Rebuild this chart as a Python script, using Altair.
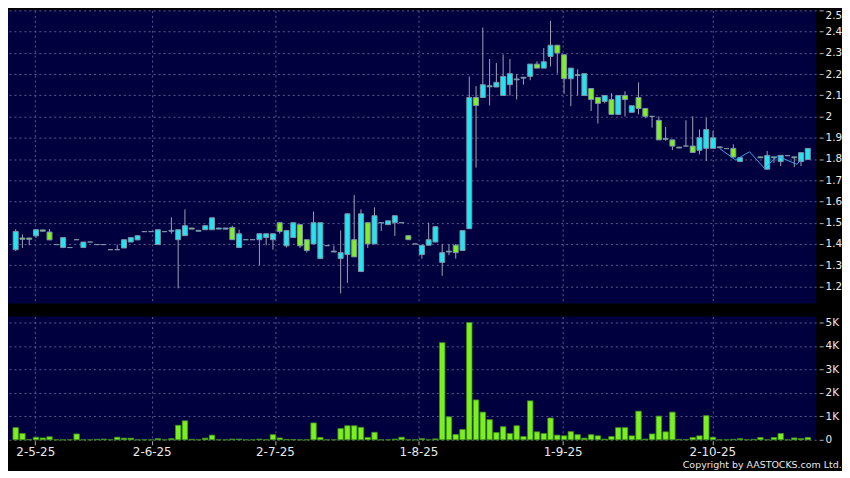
import altair as alt
import pandas as pd

# ---- price data (one entry per trading slot) ----
opens = [1.373, 1.428, 1.428, 1.438, 1.466, 1.456, 1.397, 1.383, 1.383, 1.420,
         1.383, 1.409, 1.397, 1.397, 1.373, 1.373, 1.381, 1.409, 1.419, 1.458,
         1.458, 1.397, 1.458, 1.460, 1.420, 1.439, 1.475, 1.460, 1.467, 1.467,
         1.470, 1.470, 1.478, 1.383, 1.420, 1.420, 1.420, 1.430, 1.420, 1.500,
         1.391, 1.430, 1.491, 1.420, 1.400, 1.331, 1.392, 1.362, 1.331, 1.350,
         1.420, 1.270, 1.500, 1.400, 1.500, 1.491, 1.500, 1.500, 1.439, 1.400,
         1.350, 1.394, 1.409, 1.313, 1.362, 1.394, 1.369, 1.472, 2.090, 2.090,
         2.145, 2.139, 2.099, 2.150, 2.173, 2.181, 2.189, 2.247, 2.228, 2.283,
         2.336, 2.291, 2.178, 2.197, 2.099, 2.132, 2.090, 2.071, 2.080, 2.010,
         2.099, 2.020, 2.090, 2.038, 2.001, 1.982, 1.897, 1.890, 1.856, 1.861,
         1.861, 1.841, 1.850, 1.850, 1.857, 1.849, 1.850, 1.788, None, None,
         1.810, 1.752, 1.810, 1.788, 1.816, 1.810, 1.788, 1.798]
highs = [1.469, 1.445, 1.428, 1.467, 1.466, 1.470, 1.397, 1.430, 1.383, 1.420,
         1.409, 1.409, 1.397, 1.397, 1.373, 1.397, 1.420, 1.430, 1.439, 1.458,
         1.458, 1.467, 1.458, 1.525, 1.467, 1.563, 1.475, 1.464, 1.486, 1.523,
         1.475, 1.475, 1.486, 1.467, 1.420, 1.420, 1.448, 1.448, 1.448, 1.500,
         1.463, 1.500, 1.491, 1.420, 1.553, 1.500, 1.392, 1.392, 1.464, 1.542,
         1.631, 1.563, 1.500, 1.572, 1.500, 1.509, 1.533, 1.500, 1.439, 1.400,
         1.394, 1.500, 1.481, 1.400, 1.400, 1.400, 1.463, 2.189, 2.143, 2.419,
         2.271, 2.252, 2.292, 2.271, 2.200, 2.185, 2.247, 2.260, 2.322, 2.451,
         2.336, 2.291, 2.228, 2.222, 2.202, 2.132, 2.090, 2.099, 2.110, 2.099,
         2.119, 2.051, 2.161, 2.038, 2.001, 2.001, 1.951, 1.890, 1.856, 1.982,
         2.001, 1.939, 1.994, 1.931, 1.857, 1.849, 1.869, 1.806, None, None,
         1.810, 1.838, 1.810, 1.817, 1.816, 1.810, 1.830, 1.850]
lows = [1.367, 1.381, 1.394, 1.428, 1.460, 1.419, 1.397, 1.383, 1.383, 1.420,
        1.383, 1.409, 1.397, 1.397, 1.373, 1.373, 1.381, 1.409, 1.419, 1.458,
        1.458, 1.397, 1.458, 1.448, 1.191, 1.439, 1.470, 1.460, 1.467, 1.467,
        1.470, 1.470, 1.420, 1.383, 1.420, 1.420, 1.300, 1.394, 1.373, 1.448,
        1.383, 1.430, 1.381, 1.359, 1.400, 1.331, 1.392, 1.362, 1.167, 1.217,
        1.339, 1.270, 1.381, 1.400, 1.461, 1.491, 1.438, 1.500, 1.420, 1.400,
        1.331, 1.394, 1.409, 1.250, 1.347, 1.331, 1.369, 1.472, 1.760, 2.090,
        2.052, 2.139, 2.099, 2.099, 2.080, 2.150, 2.171, 2.228, 2.228, 2.236,
        2.202, 2.107, 2.049, 2.099, 2.099, 2.026, 1.967, 2.062, 2.010, 2.010,
        2.000, 2.020, 2.010, 1.992, 1.948, 1.890, 1.886, 1.842, 1.852, 1.861,
        1.831, 1.822, 1.791, 1.850, 1.853, 1.849, 1.809, 1.788, None, None,
        1.806, 1.752, 1.782, 1.767, 1.816, 1.762, 1.767, 1.798]
closes = [1.459, 1.422, 1.422, 1.467, 1.460, 1.419, 1.397, 1.430, 1.383, 1.420,
          1.409, 1.409, 1.397, 1.397, 1.373, 1.373, 1.420, 1.430, 1.439, 1.458,
          1.458, 1.467, 1.458, 1.464, 1.467, 1.486, 1.470, 1.464, 1.486, 1.523,
          1.475, 1.475, 1.420, 1.448, 1.420, 1.420, 1.448, 1.448, 1.448, 1.459,
          1.463, 1.500, 1.391, 1.369, 1.500, 1.500, 1.392, 1.366, 1.359, 1.542,
          1.339, 1.542, 1.400, 1.533, 1.500, 1.509, 1.533, 1.500, 1.420, 1.400,
          1.394, 1.420, 1.481, 1.359, 1.366, 1.359, 1.463, 2.090, 2.052, 2.150,
          2.140, 2.161, 2.189, 2.202, 2.177, 2.185, 2.247, 2.228, 2.258, 2.336,
          2.299, 2.178, 2.228, 2.193, 2.202, 2.080, 2.062, 2.099, 2.010, 2.099,
          2.080, 2.051, 2.038, 2.001, 2.001, 1.890, 1.893, 1.861, 1.852, 1.861,
          1.831, 1.900, 1.939, 1.900, 1.853, 1.849, 1.809, 1.806, None, None,
          1.806, 1.817, 1.806, 1.817, 1.816, 1.806, 1.830, 1.850]

# ---- volume data ----
volumes = [520, 270, 10, 110, 80, 130, 0, 0, 0, 250,
           0, 0, 20, 30, 0, 110, 70, 70, 0, 0,
           0, 50, 0, 50, 620, 810, 20, 0, 70, 200,
           0, 0, 30, 30, 0, 0, 30, 0, 220, 80,
           10, 10, 0, 0, 720, 100, 0, 0, 480, 600,
           600, 530, 100, 320, 0, 0, 30, 110, 0, 0,
           50, 0, 40, 4140, 980, 230, 440, 5000, 1700, 1180,
           860, 310, 560, 270, 600, 140, 1660, 340, 270, 930,
           200, 170, 350, 220, 70, 220, 170, 30, 140, 520,
           520, 170, 1220, 30, 250, 1010, 340, 1180, 20, 10,
           100, 170, 1030, 110, 0, 0, 20, 50, 0, 20,
           100, 0, 100, 270, 0, 80, 50, 100]

# ---- thin blue overlay line ----
line_idx = [104.0, 106.3, 108.4, 110.6, 112.5, 115.4, 116.0]
line_val = [1.849, 1.796, 1.834, 1.756, 1.814, 1.775, 1.798]

# ---- axis ticks ----
tick_pos = [2.9, 20.1, 38.3, 59.5, 80.8, 102.9]
tick_labels = ["2-5-25", "2-6-25", "2-7-25", "1-8-25", "1-9-25", "2-10-25"]
price_ticks = [1.2, 1.3, 1.4, 1.5, 1.6, 1.7, 1.8, 1.9, 2.0, 2.1, 2.2, 2.3, 2.4, 2.5]
vol_ticks = [0, 1000, 2000, 3000, 4000, 5000]

def direction(o, c):
    if o is None or c is None:
        return None
    if c > o:
        return "up"
    if c < o:
        return "down"
    return "flat"

df = pd.DataFrame({
    "i": list(range(len(volumes))),
    "open": opens, "high": highs, "low": lows, "close": closes,
    "vol": volumes,
})
df["dir"] = [direction(o, c) for o, c in zip(opens, closes)]
line_df = pd.DataFrame({"i": line_idx, "v": line_val})

NAVY = "#00003f"
GRID = "#5c5c8e"
CYAN = "#22e6ef"
GREEN = "#7ff024"
FLAT = "#a2a8b8"
BORDER = "#7e93a8"
WICK = "#a0a0b4"
LABEL = "#e8e8e8"
FONT = "DejaVu Sans"
W = 813

xs = alt.Scale(domain=[-0.4, 117.5], nice=False, zero=False)
ys_price = alt.Scale(domain=[1.119, 2.5], nice=False, zero=False)
ys_vol = alt.Scale(domain=[0, 5254], nice=False, zero=True)

common_axis = dict(gridColor=GRID, gridDash=[2, 3], gridWidth=1, domain=False,
                   labelColor=LABEL, labelFont=FONT, tickColor="#b0b0b0",
                   title=None, labelOverlap=False)

x_price_axis = alt.Axis(values=tick_pos, labels=False, ticks=False, grid=True,
                        **common_axis)
y_price_axis = alt.Axis(orient="right", values=price_ticks, format=".2~f",
                        grid=True, tickSize=4, offset=3, labelPadding=2,
                        labelFontSize=10.5, labelFlush=True, tickCount=14,
                        **common_axis)

wick = alt.Chart(df).mark_rule(color=WICK, strokeWidth=1).encode(
    x=alt.X("i:Q", scale=xs, axis=x_price_axis),
    y=alt.Y("low:Q", scale=ys_price, axis=y_price_axis),
    y2="high:Q",
)
body = alt.Chart(df).mark_bar(size=5, stroke=BORDER, strokeWidth=1).encode(
    x=alt.X("i:Q", scale=xs, axis=x_price_axis),
    y=alt.Y("open:Q", scale=ys_price, axis=y_price_axis),
    y2="close:Q",
    color=alt.Color("dir:N", scale=alt.Scale(domain=["up", "down", "flat"],
                                             range=[CYAN, GREEN, FLAT]),
                    legend=None),
)
overlay = alt.Chart(line_df).mark_line(color="#3f9ee0", strokeWidth=1).encode(
    x=alt.X("i:Q", scale=xs, axis=x_price_axis),
    y=alt.Y("v:Q", scale=ys_price, axis=y_price_axis),
)
price = alt.layer(wick, body, overlay).properties(width=W, height=295)

label_expr = ("[" + ",".join(f"'{t}'" for t in tick_labels) + "][indexof(["
              + ",".join(str(p) for p in tick_pos) + "], datum.value)]")
x_vol_axis = alt.Axis(values=tick_pos, labelExpr=label_expr, grid=True,
                      tickSize=4, offset=1, labelPadding=2, labelFontSize=12,
                      labelFlush=False, **common_axis)
y_vol_axis = alt.Axis(orient="right", values=vol_ticks,
                      labelExpr="datum.value == 0 ? '0' : (datum.value / 1000) + 'K'",
                      grid=True, tickSize=4, offset=3, labelPadding=2,
                      labelFontSize=10.5, **common_axis)

vol = alt.Chart(df).mark_bar(size=5.5, color="#7cf01e", stroke="#3f8c1c",
                             strokeWidth=0.8).encode(
    x=alt.X("i:Q", scale=xs, axis=x_vol_axis),
    y=alt.Y("vol:Q", scale=ys_vol, axis=y_vol_axis),
).properties(width=W, height=124)

chart = alt.vconcat(price, vol, spacing=13, bounds="flush").properties(
    title=alt.TitleParams("Copyright by AASTOCKS.com Ltd.", orient="bottom",
                          anchor="end", fontSize=9.5, font=FONT,
                          fontWeight="normal", color=LABEL, offset=2),
    background="#000000",
    padding=0,
).configure_view(fill=NAVY, strokeWidth=0)

chart.save("out.html", embed_options={"renderer": "svg", "actions": False})
